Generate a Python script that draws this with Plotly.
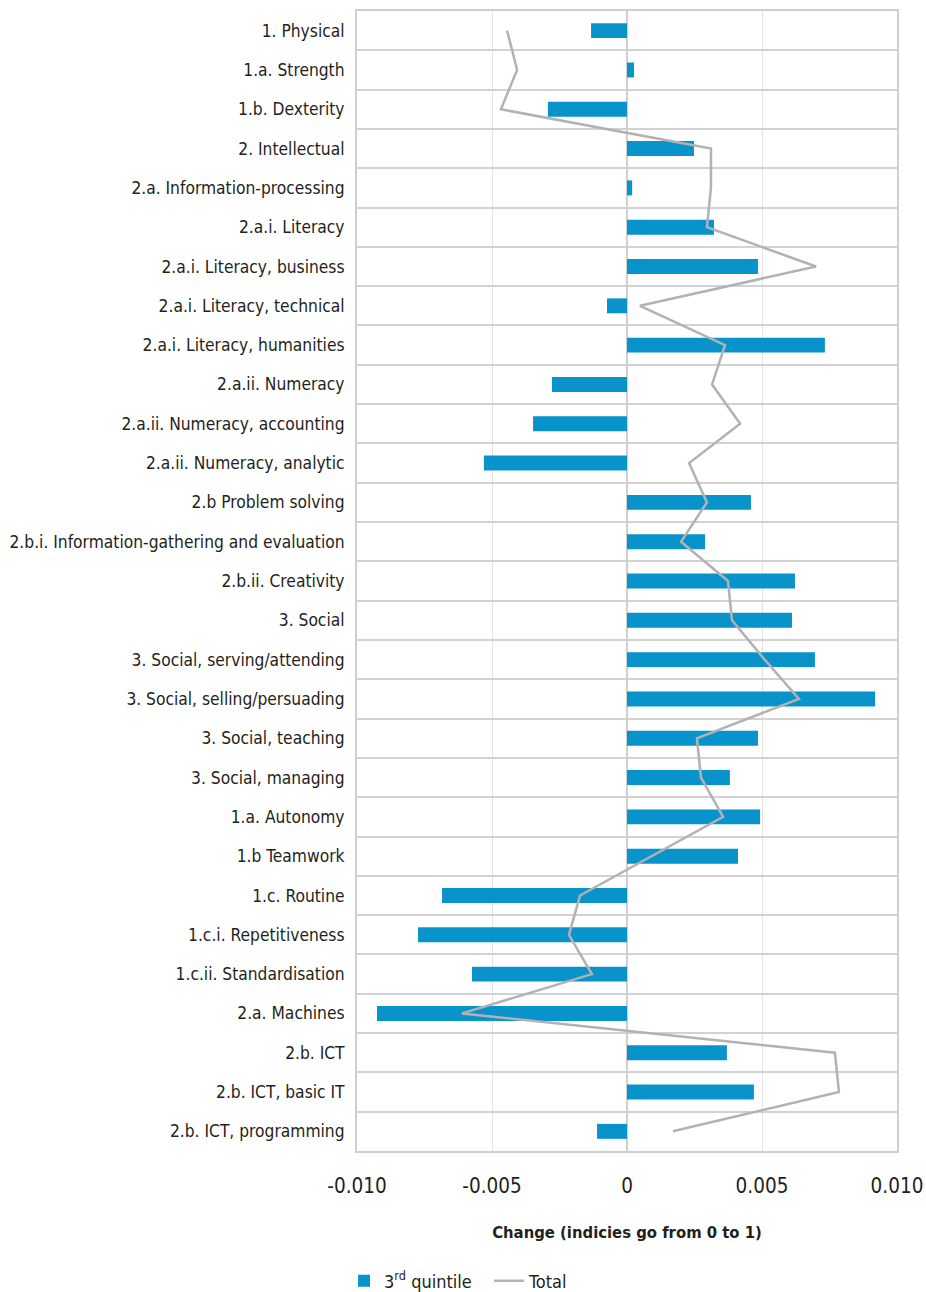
import plotly.graph_objects as go

categories = [
    "1. Physical", "1.a. Strength", "1.b. Dexterity", "2. Intellectual",
    "2.a. Information-processing", "2.a.i. Literacy", "2.a.i. Literacy, business",
    "2.a.i. Literacy, technical", "2.a.i. Literacy, humanities", "2.a.ii. Numeracy",
    "2.a.ii. Numeracy, accounting", "2.a.ii. Numeracy, analytic", "2.b Problem solving",
    "2.b.i. Information-gathering and evaluation", "2.b.ii. Creativity", "3. Social",
    "3. Social, serving/attending", "3. Social, selling/persuading", "3. Social, teaching",
    "3. Social, managing", "1.a. Autonomy", "1.b Teamwork", "1.c. Routine",
    "1.c.i. Repetitiveness", "1.c.ii. Standardisation", "2.a. Machines", "2.b. ICT",
    "2.b. ICT, basic IT", "2.b. ICT, programming",
]

quintile3 = [
    -0.00133, 0.00026, -0.00293, 0.00248, 0.00019, 0.00322, 0.00485, -0.00074,
    0.00733, -0.00278, -0.00348, -0.0053, 0.00459, 0.00289, 0.00622, 0.00611,
    0.00696, 0.00919, 0.00485, 0.00381, 0.00493, 0.00411, -0.00685, -0.00774,
    -0.00574, -0.00926, 0.0037, 0.0047, -0.00111,
]

total = [
    -0.00444, -0.00407, -0.00467, 0.00311, 0.00311, 0.00296, 0.0070, 0.00048,
    0.00363, 0.00315, 0.00419, 0.0023, 0.00296, 0.0020, 0.00374, 0.00389,
    0.0051, 0.00637, 0.00259, 0.00274, 0.00356, 0.0009, -0.00174, -0.00215,
    -0.0013, -0.00611, 0.0077, 0.00785, 0.0017,
]

x_ticks = [-0.010, -0.005, 0, 0.005, 0.010]
x_tick_labels = ["-0.010", "-0.005", "0", "0.005", "0.010"]

FONT = "Liberation Sans Narrow, DejaVu Sans Condensed, Roboto, sans-serif"
TEXT = "#231f20"

fig = go.Figure()
fig.add_trace(go.Bar(
    y=categories, x=quintile3, orientation="h",
    name="3<sup>rd</sup> quintile", marker=dict(color="#0893cb", line=dict(width=0)),
    width=0.38,
))
fig.add_trace(go.Scatter(
    y=categories, x=total, mode="lines", name="Total",
    line=dict(color="#b2b2b4", width=2.5),
))

fig.update_layout(
    width=926, height=1292,
    margin=dict(l=357, r=29, t=11, b=141, autoexpand=False),
    paper_bgcolor="white", plot_bgcolor="white",
    font=dict(family=FONT, size=17.25, color=TEXT),
    showlegend=True,
    legend=dict(orientation="h", x=-0.024, xanchor="left", y=-0.114, yanchor="middle",
                font=dict(size=18, color=TEXT), traceorder="normal",
                entrywidth=100, entrywidthmode="pixels"),
)
fig.update_xaxes(
    range=[-0.010, 0.010], tickvals=x_ticks, ticktext=x_tick_labels,
    showgrid=True, gridcolor="#e4e4e4", gridwidth=1,
    zeroline=True, zerolinecolor="#cfcfcf", zerolinewidth=1.5,
    showline=True, linecolor="#cfcfcf", linewidth=2, mirror=True,
    ticks="", ticklabelstandoff=15, tickfont=dict(size=20.5),
    title=dict(text="<b>Change (indicies go from 0 to 1)</b>", standoff=30,
               font=dict(size=16.5, color=TEXT)),
)
fig.update_yaxes(
    type="category", autorange=False, range=[len(categories) - 0.5, -0.5],
    tickson="boundaries",
    showgrid=True, gridcolor="#d2d2d2", gridwidth=2,
    showline=True, linecolor="#cfcfcf", linewidth=2, mirror=True,
    ticks="", ticklabelstandoff=7,
)

fig.write_html("out.html", config={"displayModeBar": False},
               post_script="document.body.style.margin='0';")
